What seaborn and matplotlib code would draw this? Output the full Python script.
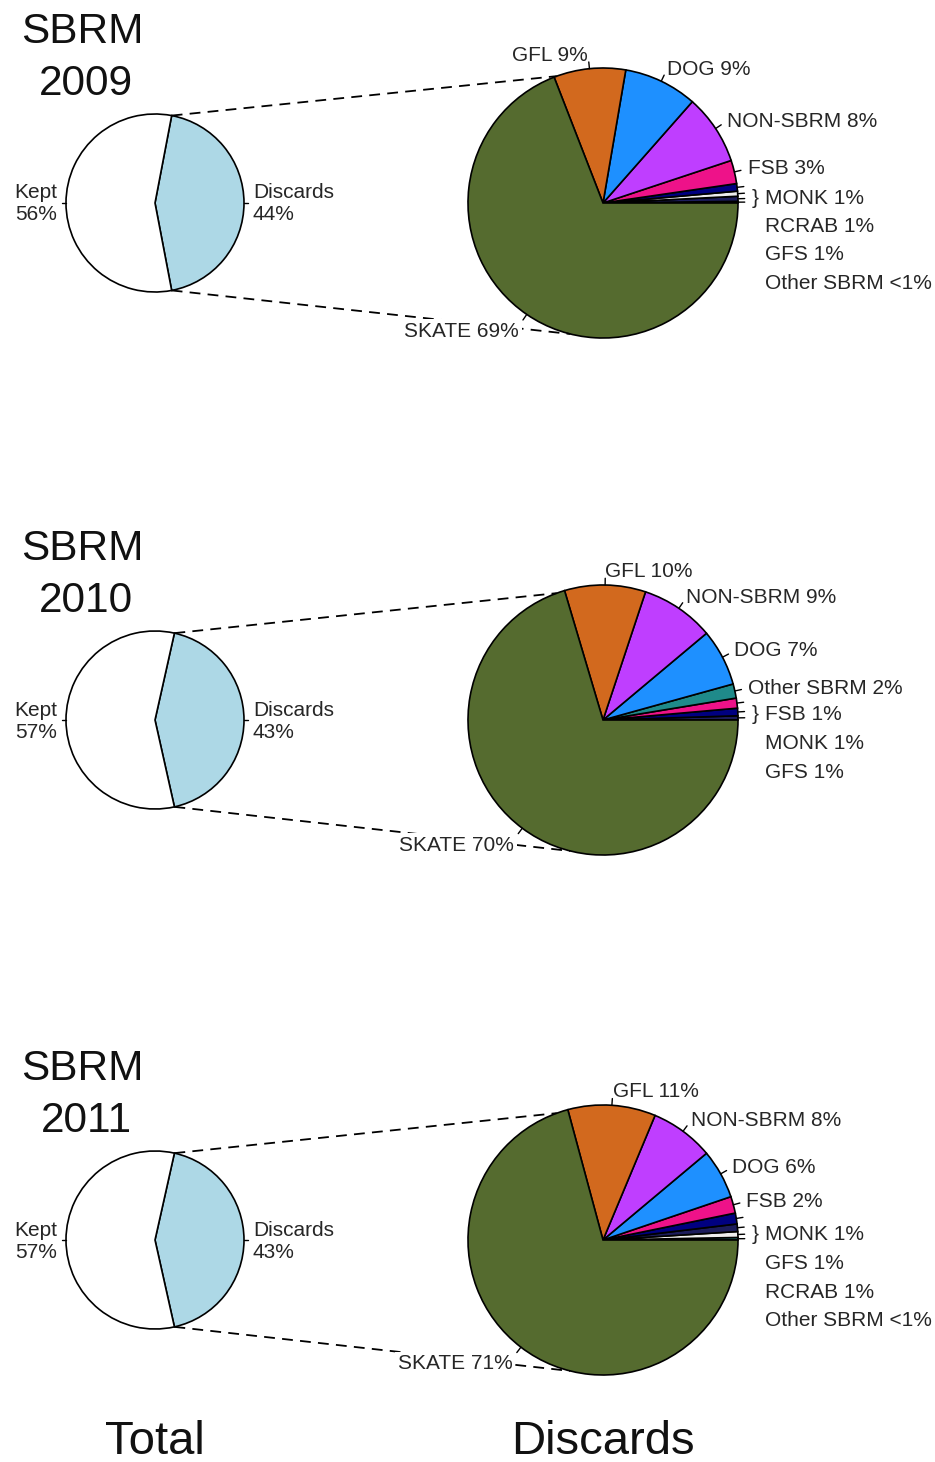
import numpy as np
import matplotlib.pyplot as plt
import seaborn as sns

sns.set_style("white")
plt.rcParams["font.family"] = ["Liberation Sans", "DejaVu Sans"]

# Kept vs discarded share of the total catch
years = ["2009", "2010", "2011"]
kept_pct = [56, 57, 57]
discard_pct = [44, 43, 43]

# Discard composition, in drawing order (counter-clockwise from 3 o'clock)
species_2009 = ["Other SBRM", "GFS", "RCRAB", "MONK", "FSB", "NON-SBRM", "DOG", "GFL", "SKATE"]
share_2009 = [0.2, 0.6, 0.6, 0.9, 2.8, 8.4, 8.8, 8.6, 69.1]
labels_2009 = ["Other SBRM <1%", "GFS 1%", "RCRAB 1%", "MONK 1%", "FSB 3%",
               "NON-SBRM 8%", "DOG 9%", "GFL 9%", "SKATE 69%"]

species_2010 = ["GFS", "MONK", "FSB", "Other SBRM", "DOG", "NON-SBRM", "GFL", "SKATE"]
share_2010 = [0.5, 0.9, 1.2, 1.7, 6.8, 8.8, 9.7, 70.4]
labels_2010 = ["GFS 1%", "MONK 1%", "FSB 1%", "Other SBRM 2%", "DOG 7%",
               "NON-SBRM 9%", "GFL 10%", "SKATE 70%"]

species_2011 = ["Other SBRM", "RCRAB", "GFS", "MONK", "FSB", "DOG", "NON-SBRM", "GFL", "SKATE"]
share_2011 = [0.3, 0.7, 0.9, 1.3, 2.0, 5.9, 7.6, 10.5, 70.8]
labels_2011 = ["Other SBRM <1%", "RCRAB 1%", "GFS 1%", "MONK 1%", "FSB 2%",
               "DOG 6%", "NON-SBRM 8%", "GFL 11%", "SKATE 71%"]

# how many of the smallest slices get a stacked label list instead of a direct label
n_stacked = [4, 3, 4]

species_colors = {
    "SKATE": "#556B2F",
    "GFL": "#D2691E",
    "DOG": "#1E90FF",
    "NON-SBRM": "#BF3EFF",
    "FSB": "#EE1289",
    "MONK": "#000080",
    "GFS": "#1C1C5C",
    "RCRAB": "#EDEDED",
    "Other SBRM": "#1F8A8A",
}

all_species = [species_2009, species_2010, species_2011]
all_shares = [share_2009, share_2010, share_2011]
all_labels = [labels_2009, labels_2010, labels_2011]

W, H = 935, 1462
fig = plt.figure(figsize=(9.35, 14.62), dpi=100)
ax = fig.add_axes([0, 0, 1, 1])

small_x, small_r = 155, 89
big_x, big_r = 603, 135
panel_y = [203, 720, 1240]   # pixel rows from the top
fs = 15
txt = "#262626"
edge = dict(edgecolor="black", linewidth=1.2)


def tick(cx, cy, r, ang):
    a = np.deg2rad(ang)
    ax.plot([cx + r * np.cos(a), cx + 1.05 * r * np.cos(a)],
            [cy + r * np.sin(a), cy + 1.05 * r * np.sin(a)],
            color="black", lw=1, zorder=4)


for i, yr in enumerate(years):
    cy = H - panel_y[i]

    # title
    ax.text(82, cy + 171, "SBRM", fontsize=30.5, ha="center", va="center", color="#111111")
    ax.text(86, cy + 119, yr, fontsize=30.5, ha="center", va="center", color="#111111")

    # small pie: Discards centred on 3 o'clock
    d = discard_pct[i]
    half = d / 100 * 180
    ax.pie([d, kept_pct[i]], colors=["#ADD8E6", "white"], startangle=-half,
           counterclock=True, center=(small_x, cy), radius=small_r,
           wedgeprops=edge, frame=True)
    tick(small_x, cy, small_r, 0)
    tick(small_x, cy, small_r, 180)
    ax.text(small_x + 1.1 * small_r, cy - 1, "Discards\n%d%%" % d, fontsize=fs,
            ha="left", va="center", color=txt, linespacing=1.2)
    ax.text(small_x - 1.1 * small_r, cy - 1, "Kept\n%d%%" % kept_pct[i], fontsize=fs,
            ha="right", va="center", multialignment="right", color=txt,
            linespacing=1.2)

    # big pie: composition of discards
    vals = all_shares[i]
    labs = all_labels[i]
    cols = [species_colors[s] for s in all_species[i]]
    ax.pie(vals, colors=cols, startangle=0, counterclock=True,
           center=(big_x, cy), radius=big_r, wedgeprops=edge, frame=True)

    cum = np.cumsum([0] + list(vals)) / np.sum(vals) * 360
    for k in range(len(vals)):
        mid = (cum[k] + cum[k + 1]) / 2
        tick(big_x, cy, big_r, mid)
        if k < n_stacked[i]:
            continue
        a = np.deg2rad(mid)
        tx = big_x + 1.1 * big_r * np.cos(a)
        ty = cy + 1.1 * big_r * np.sin(a)
        ha = "left" if np.cos(a) >= 0 else "right"
        box = None
        if k == len(vals) - 1:
            box = dict(facecolor="white", edgecolor="none", pad=2)
            ty -= 6
        ax.text(tx, ty, labs[k], fontsize=fs, ha=ha, va="center", color=txt,
                bbox=box, zorder=5)

    # stacked labels for the tiny slices
    stacked = labs[:n_stacked[i]][::-1]
    ax.text(755, cy + 5, "}", fontsize=fs, ha="center", va="center", color=txt)
    for j, lab in enumerate(stacked):
        ax.text(765, cy + 5 - 28.5 * j, lab, fontsize=fs, ha="left", va="center",
                color=txt)

    # dashed connectors from the Discards slice to the big pie
    for a_small, a_big in [(half, 110), (-half, 256)]:
        s = np.deg2rad(a_small)
        b = np.deg2rad(a_big)
        ax.plot([small_x + small_r * np.cos(s), big_x + big_r * np.cos(b)],
                [cy + small_r * np.sin(s), cy + big_r * np.sin(b)],
                color="black", lw=1.3, ls=(0, (6, 4)), zorder=1)

ax.text(small_x, H - 1442, "Total", fontsize=34, ha="center", va="center", color="#111111")
ax.text(big_x, H - 1442, "Discards", fontsize=34, ha="center", va="center", color="#111111")

ax.set_xlim(0, W)
ax.set_ylim(0, H)
ax.set_aspect("equal", adjustable="box")
ax.axis("off")

fig.savefig("out.png", dpi=100, facecolor="white")
